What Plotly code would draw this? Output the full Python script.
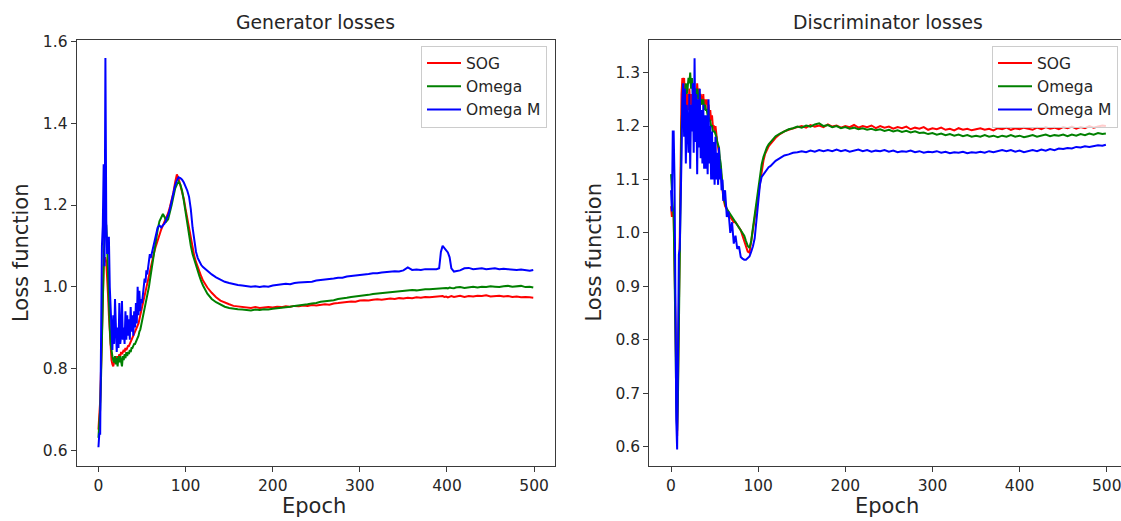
import plotly.graph_objects as go

W, H = 1121, 521

# ---------------- data ----------------
series_names = ["SOG", "Omega", "Omega M"]
series_colors = ["red", "green", "blue"]

gen_epochs = (list(range(0, 61)) + list(range(62, 121, 2)) + list(range(125, 386, 5))
              + [388, 391, 393, 395, 397, 399, 401, 403, 405, 408]
              + list(range(410, 496, 5)) + [499])
disc_epochs = list(range(0, 61)) + list(range(62, 121, 2)) + list(range(125, 496, 5)) + [499]

gen_sog = [
    0.65, 0.68, 0.72, 0.80, 0.90, 1.00, 1.05, 1.07, 1.07, 1.06,
    1.03, 0.98, 0.93, 0.88, 0.84, 0.82, 0.81, 0.805, 0.815, 0.82,
    0.83, 0.82, 0.83, 0.825, 0.835, 0.83, 0.84, 0.835, 0.84, 0.845,
    0.84, 0.85, 0.845, 0.85, 0.855, 0.855, 0.86, 0.865, 0.87, 0.875,
    0.88, 0.885, 0.89, 0.895, 0.90, 0.905, 0.91, 0.92, 0.93, 0.94,
    0.95, 0.96, 0.97, 0.98, 0.99, 1.00, 1.01, 1.02, 1.03, 1.04,
    1.05,
    1.065, 1.085, 1.10, 1.115, 1.13, 1.14, 1.15, 1.16, 1.17, 1.18,
    1.195, 1.21, 1.23, 1.255, 1.275, 1.265, 1.25, 1.235, 1.215, 1.19,
    1.165, 1.14, 1.115, 1.095, 1.075, 1.06, 1.047, 1.035, 1.025, 1.015,
    0.998, 0.985, 0.974, 0.966, 0.961, 0.957, 0.953, 0.952, 0.95, 0.949,
    0.948, 0.95, 0.948, 0.949, 0.95, 0.949, 0.951, 0.95, 0.952, 0.951,
    0.953, 0.952, 0.954, 0.953, 0.955, 0.954, 0.956, 0.957, 0.956, 0.959,
    0.96, 0.961, 0.962, 0.964, 0.963, 0.966, 0.967, 0.966, 0.968, 0.969,
    0.968, 0.97, 0.971, 0.97, 0.972, 0.971, 0.973, 0.972, 0.974, 0.973,
    0.975, 0.974, 0.975,
    0.974, 0.976, 0.975, 0.977, 0.975, 0.976, 0.974, 0.976, 0.977, 0.975,
    0.976, 0.978, 0.975, 0.977, 0.976, 0.978, 0.977, 0.979, 0.976, 0.977,
    0.978, 0.976, 0.977, 0.975, 0.976, 0.974, 0.975, 0.974,
    0.973,
]

gen_omega = [
    0.63, 0.66, 0.70, 0.78, 0.88, 0.98, 1.08, 1.14, 1.16, 1.15,
    1.10, 1.02, 0.95, 0.90, 0.86, 0.835, 0.83, 0.82, 0.815, 0.83,
    0.81, 0.825, 0.805, 0.83, 0.815, 0.83, 0.81, 0.805, 0.83, 0.82,
    0.835, 0.825, 0.84, 0.83, 0.84, 0.835, 0.845, 0.84, 0.85, 0.85,
    0.855, 0.86, 0.86, 0.865, 0.87, 0.875, 0.88, 0.89, 0.895, 0.905,
    0.915, 0.925, 0.935, 0.945, 0.955, 0.965, 0.975, 0.99, 1.00, 1.015,
    1.03,
    1.05, 1.08, 1.11, 1.14, 1.16, 1.17, 1.178, 1.17, 1.16, 1.165,
    1.18, 1.20, 1.22, 1.24, 1.25, 1.257, 1.25, 1.235, 1.21, 1.18,
    1.15, 1.12, 1.10, 1.08, 1.065, 1.05, 1.037, 1.025, 1.013, 1.003,
    0.983, 0.97, 0.962, 0.956, 0.951, 0.948, 0.946, 0.945, 0.944, 0.943,
    0.942, 0.944, 0.943, 0.945, 0.944, 0.946, 0.947, 0.948, 0.95, 0.951,
    0.953, 0.954, 0.956, 0.957, 0.959, 0.96, 0.963, 0.964, 0.966, 0.967,
    0.97, 0.971, 0.973, 0.975, 0.976, 0.978, 0.979, 0.98, 0.982, 0.983,
    0.985, 0.985, 0.987, 0.988, 0.989, 0.99, 0.99, 0.992, 0.991, 0.993,
    0.994, 0.994, 0.995,
    0.996, 0.995, 0.997, 0.996, 0.998, 0.997, 0.996, 0.998, 0.997, 0.996,
    0.998, 0.999, 0.997, 0.999, 1.0, 0.998, 1.0, 0.999, 1.001, 1.0,
    0.999, 1.001, 1.002, 1.0, 1.001, 1.002, 0.999, 1.0,
    0.998,
]

gen_omega_m = [
    0.607, 0.64, 0.64, 0.90, 1.10, 1.15, 1.30, 1.05, 1.56, 1.16,
    1.08, 1.12, 1.12, 1.00, 0.93, 0.88, 0.845, 0.93, 0.86, 0.97,
    0.87, 0.84, 0.90, 0.85, 0.96, 0.86, 0.88, 0.965, 0.87, 0.90,
    0.86, 0.94, 0.87, 0.93, 0.88, 0.92, 0.87, 0.95, 0.89, 0.93,
    0.88, 0.94, 0.90, 0.96, 0.91, 1.00, 0.93, 0.99, 0.94, 0.97,
    0.96, 0.98, 0.99, 1.02, 1.01, 1.04, 1.03, 1.05, 1.06, 1.08,
    1.07,
    1.09, 1.11, 1.13, 1.145, 1.15, 1.145, 1.15, 1.155, 1.165, 1.175,
    1.19, 1.21, 1.23, 1.248, 1.26, 1.268, 1.266, 1.262, 1.255, 1.245,
    1.235, 1.22, 1.19, 1.145, 1.11, 1.085, 1.07, 1.06, 1.053, 1.048,
    1.038, 1.03, 1.023, 1.017, 1.012, 1.009, 1.006, 1.004, 1.003, 1.002,
    1.0, 1.001, 0.999, 1.001, 1.0, 1.003, 1.004, 1.005, 1.007, 1.006,
    1.009, 1.01, 1.011, 1.012, 1.012, 1.015, 1.016, 1.017, 1.019, 1.02,
    1.022, 1.022, 1.025, 1.026, 1.027, 1.028, 1.03, 1.031, 1.033, 1.033,
    1.035, 1.036, 1.037, 1.038, 1.037, 1.04, 1.047, 1.041, 1.042, 1.041,
    1.043, 1.043, 1.042,
    1.043, 1.045, 1.085, 1.10, 1.095, 1.09, 1.084, 1.072, 1.045, 1.037,
    1.038, 1.04, 1.045, 1.046, 1.043, 1.044, 1.045, 1.043, 1.044, 1.045,
    1.043, 1.044, 1.043, 1.042, 1.041, 1.042, 1.04, 1.039,
    1.041,
]

disc_sog = [
    1.05, 1.03, 1.04, 1.03, 0.95, 0.80, 0.66, 0.62, 0.72, 0.88,
    1.05, 1.20, 1.26, 1.29, 1.28, 1.29, 1.25, 1.27, 1.22, 1.26,
    1.23, 1.27, 1.24, 1.26, 1.22, 1.25, 1.27, 1.23, 1.26, 1.24,
    1.28, 1.25, 1.27, 1.24, 1.26, 1.25, 1.24, 1.26, 1.23, 1.25,
    1.24, 1.25, 1.23, 1.24, 1.22, 1.23, 1.21, 1.22, 1.20, 1.20,
    1.19, 1.20, 1.18, 1.17, 1.16, 1.15, 1.13, 1.12, 1.10, 1.08,
    1.065,
    1.05, 1.045, 1.035, 1.03, 1.025, 1.02, 1.02, 1.015, 1.01, 1.005,
    0.995, 0.985, 0.975, 0.965, 0.963, 0.985, 1.01, 1.03, 1.05, 1.075,
    1.10, 1.118, 1.135, 1.148, 1.156, 1.162, 1.166, 1.17, 1.175, 1.178,
    1.185, 1.19, 1.193, 1.196, 1.198, 1.2, 1.197, 1.202, 1.199, 1.201,
    1.198, 1.203, 1.199, 1.201, 1.197, 1.2, 1.198, 1.202, 1.197, 1.2,
    1.198, 1.201, 1.196, 1.2, 1.197, 1.199, 1.195, 1.198, 1.196, 1.199,
    1.194, 1.197, 1.195, 1.198, 1.193, 1.196, 1.194, 1.197, 1.193, 1.195,
    1.192, 1.196, 1.193, 1.195, 1.192, 1.194, 1.196, 1.193, 1.195, 1.192,
    1.196, 1.194, 1.197, 1.193, 1.196, 1.194, 1.197, 1.195, 1.193, 1.197,
    1.194, 1.198, 1.195, 1.197, 1.194, 1.198, 1.196, 1.199, 1.195, 1.198,
    1.196, 1.2, 1.197, 1.199, 1.201,
    1.2,
]

disc_omega = [
    1.11, 1.06, 1.05, 1.03, 0.95, 0.82, 0.68, 0.63, 0.70, 0.85,
    1.00, 1.13, 1.20, 1.24, 1.26, 1.25, 1.27, 1.28, 1.26, 1.27,
    1.29, 1.28, 1.30, 1.27, 1.29, 1.26, 1.28, 1.26, 1.27, 1.25,
    1.27, 1.26, 1.25, 1.26, 1.24, 1.25, 1.24, 1.25, 1.23, 1.24,
    1.23, 1.23, 1.22, 1.22, 1.21, 1.21, 1.20, 1.20, 1.19, 1.19,
    1.19, 1.185, 1.18, 1.17, 1.165, 1.16, 1.14, 1.13, 1.11, 1.09,
    1.07,
    1.055, 1.045, 1.04, 1.035, 1.03, 1.025, 1.02, 1.015, 1.01, 1.005,
    1.0, 0.995, 0.985, 0.976, 0.972, 0.985, 1.01, 1.035, 1.06, 1.085,
    1.11, 1.128, 1.142, 1.152, 1.16, 1.166, 1.17, 1.174, 1.178, 1.181,
    1.186, 1.19, 1.194, 1.196, 1.199, 1.197, 1.201, 1.199, 1.203, 1.205,
    1.2, 1.202, 1.198, 1.2, 1.196, 1.198, 1.195, 1.197, 1.194, 1.196,
    1.193, 1.195, 1.192, 1.194, 1.191, 1.193, 1.19, 1.192, 1.189, 1.191,
    1.188, 1.19, 1.187, 1.188, 1.185, 1.187, 1.184, 1.186, 1.183, 1.185,
    1.182, 1.184, 1.181, 1.183, 1.18, 1.182, 1.18, 1.183, 1.18, 1.182,
    1.179, 1.182, 1.18, 1.183, 1.18, 1.182, 1.179, 1.181, 1.183, 1.18,
    1.182, 1.184, 1.181, 1.183, 1.182, 1.184, 1.181, 1.184, 1.182, 1.185,
    1.183, 1.186, 1.184, 1.187, 1.185,
    1.186,
]

disc_omega_m = [
    1.08, 1.04, 1.19, 1.19, 1.10, 0.85, 0.65, 0.595, 0.75, 0.96,
    0.97, 1.04, 1.14, 1.25, 1.28, 1.18, 1.27, 1.13, 1.24, 1.20,
    1.15, 1.26, 1.12, 1.24, 1.19, 1.28, 1.15, 1.327, 1.17, 1.26,
    1.11, 1.25, 1.16, 1.27, 1.14, 1.23, 1.13, 1.24, 1.12, 1.22,
    1.12, 1.22, 1.11, 1.25, 1.13, 1.20, 1.10, 1.19, 1.10, 1.17,
    1.09, 1.18, 1.10, 1.15, 1.09, 1.16, 1.10, 1.12, 1.08, 1.10,
    1.06,
    1.08, 1.03, 1.04, 1.00, 1.02, 0.98, 0.995, 0.97, 0.975, 0.955,
    0.952, 0.95, 0.95, 0.953, 0.956, 0.965, 0.975, 0.99, 1.02, 1.06,
    1.09, 1.105, 1.11, 1.115, 1.12, 1.123, 1.125, 1.129, 1.132, 1.135,
    1.14, 1.145, 1.147, 1.15, 1.151, 1.153, 1.151, 1.154, 1.152, 1.155,
    1.153, 1.155, 1.153, 1.156, 1.153, 1.155, 1.152, 1.154, 1.156, 1.153,
    1.155, 1.152, 1.154, 1.153, 1.155, 1.152, 1.154, 1.151, 1.153, 1.152,
    1.154, 1.151, 1.153, 1.15, 1.152, 1.151, 1.153, 1.15, 1.152, 1.149,
    1.151, 1.15, 1.152, 1.149, 1.151, 1.15, 1.152, 1.15, 1.153, 1.151,
    1.153, 1.155, 1.153, 1.155, 1.152, 1.154, 1.151, 1.153, 1.155, 1.153,
    1.156, 1.154, 1.157, 1.155, 1.158, 1.157, 1.159, 1.158, 1.161, 1.16,
    1.162, 1.161, 1.163, 1.164, 1.163,
    1.165,
]

gen_series = [gen_sog, gen_omega, gen_omega_m]
disc_series = [disc_sog, disc_omega, disc_omega_m]

x_ticks = [0, 100, 200, 300, 400, 500]
gen_y_ticks = [0.6, 0.8, 1.0, 1.2, 1.4, 1.6]
disc_y_ticks = [0.6, 0.7, 0.8, 0.9, 1.0, 1.1, 1.2, 1.3]

titles = ["Generator losses", "Discriminator losses"]
x_title = "Epoch"
y_title = "Loss function"

# ---------------- figure ----------------
FONT = "DejaVu Sans"
TXT = "#262626"
AX = "#3a3a3a"

fig = go.Figure()
for name, color, vals in zip(series_names, series_colors, gen_series):
    fig.add_trace(go.Scatter(x=gen_epochs[:len(vals)], y=vals, mode="lines", name=name,
                             line=dict(color=color, width=2), xaxis="x", yaxis="y",
                             legend="legend"))
for name, color, vals in zip(series_names, series_colors, disc_series):
    fig.add_trace(go.Scatter(x=disc_epochs[:len(vals)], y=vals, mode="lines", name=name,
                             line=dict(color=color, width=2), xaxis="x2", yaxis="y2",
                             legend="legend2"))

def px_x(p):
    return p / W

def px_y(p):
    return 1 - p / H

axis_common = dict(showgrid=False, zeroline=False, showline=True, linecolor=AX, linewidth=1.2,
                   ticks="outside", ticklen=5, tickwidth=1.2, tickcolor=AX, automargin=False,
                   ticklabeloverflow="allow",
                   tickfont=dict(family=FONT, size=15.5, color=TXT))

y_dom = [px_y(466), px_y(40)]

# right axes is cropped by the figure's right edge
right_left = 649.3
px_per_unit = (555 - 76.7) / (523.95 + 24.95)
right_range_hi = -24.95 + (W - right_left) / px_per_unit

legend_common = dict(xanchor="right", y=px_y(45.5), yanchor="top", itemwidth=34,
                     bgcolor="rgba(255,255,255,0.8)", bordercolor="#cccccc", borderwidth=1,
                     font=dict(family=FONT, size=15.5, color=TXT))

fig.update_layout(
    width=W, height=H, margin=dict(l=0, r=0, t=0, b=0, autoexpand=False),
    paper_bgcolor="white", plot_bgcolor="white",
    xaxis=dict(domain=[px_x(76.7), px_x(555)], range=[-24.95, 523.95], anchor="y",
               tickvals=x_ticks, mirror=True, **axis_common),
    yaxis=dict(domain=y_dom, range=[0.561, 1.604], anchor="x",
               tickvals=gen_y_ticks, tickformat=".1f", mirror=True, **axis_common),
    xaxis2=dict(domain=[px_x(right_left), 1.0], range=[-24.95, right_range_hi], anchor="y2",
                tickvals=x_ticks, mirror=True, **axis_common),
    yaxis2=dict(domain=y_dom, range=[0.564, 1.361], anchor="x2",
                tickvals=disc_y_ticks, tickformat=".1f", mirror=False, **axis_common),
    legend=dict(x=px_x(547), **legend_common),
    legend2=dict(x=px_x(1118), **legend_common),
    showlegend=True,
)

annos = []
for t, cx in zip(titles, [315.9, 888]):
    annos.append(dict(text=t, x=px_x(cx), y=px_y(22.7), xref="paper", yref="paper",
                      xanchor="center", yanchor="middle", showarrow=False,
                      font=dict(family=FONT, size=18.8, color=TXT)))
for cx in [314, 887]:
    annos.append(dict(text=x_title, x=px_x(cx), y=px_y(506), xref="paper", yref="paper",
                      xanchor="center", yanchor="middle", showarrow=False,
                      font=dict(family=FONT, size=21, color=TXT)))
for cx in [20.5, 593]:
    annos.append(dict(text=y_title, x=px_x(cx), y=px_y(252.5), xref="paper", yref="paper",
                      xanchor="center", yanchor="middle", showarrow=False, textangle=-90,
                      font=dict(family=FONT, size=21, color=TXT)))
fig.update_layout(annotations=annos)

# remove the default page margin so the figure sits at the window's top-left corner
fig.write_html("out.html", config={"displayModeBar": False},
               post_script="document.body.style.margin='0';document.body.style.overflow='hidden';")
